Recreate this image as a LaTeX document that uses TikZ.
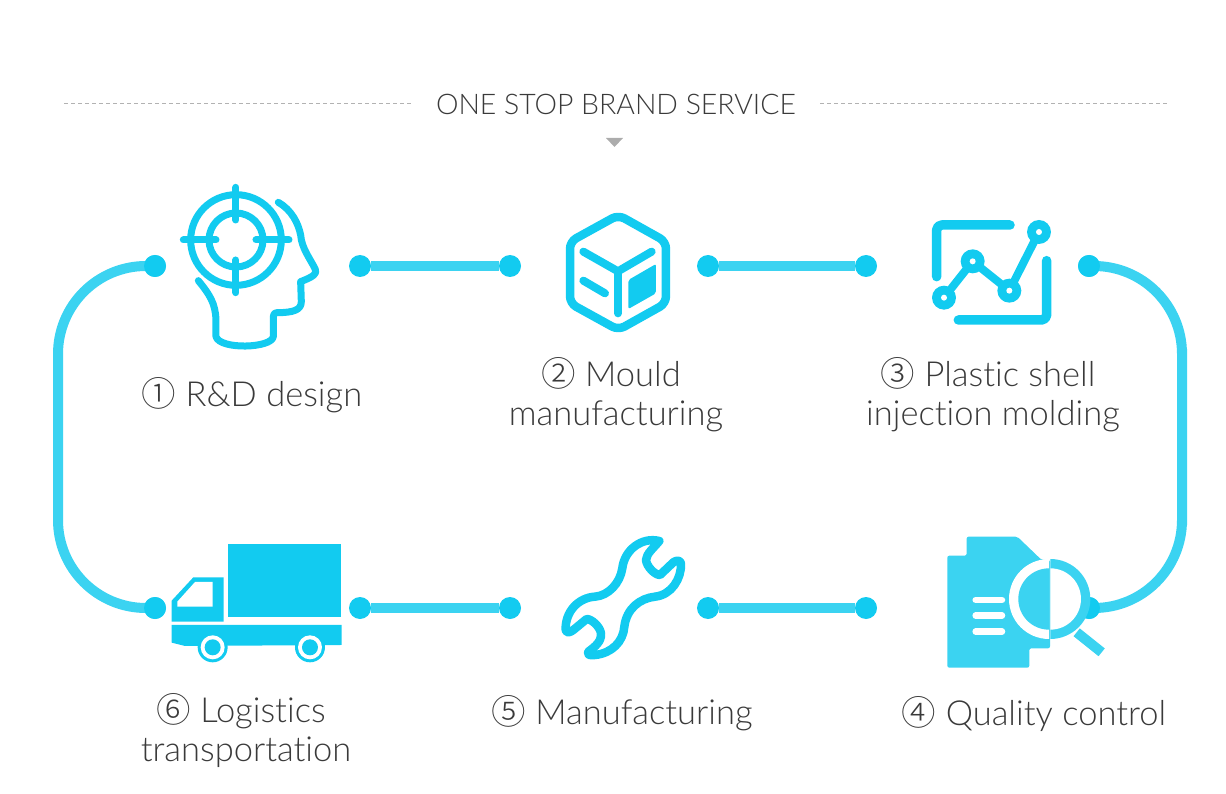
\documentclass[tikz,border=0pt]{standalone}
\usepackage{fontspec}
\setmainfont{Lato Light}[Ligatures=NoCommon]
\newfontfamily\circfont{Noto Sans CJK SC Light}
\usetikzlibrary{arrows.meta}

\definecolor{iconblue}{HTML}{12CBF0}
\definecolor{lineblue}{HTML}{3BD3F1}
\definecolor{textgray}{HTML}{3A3A3A}

\tikzset{
	dot/.style={circle, fill=iconblue, minimum size=22pt, inner sep=0pt},
	link/.style={line width=10pt, lineblue},
	label/.style={text=textgray, font=\fontsize{34.5}{39}\selectfont, align=center, inner sep=0pt},
	icon/.style={iconblue, line width=7pt, line cap=round, line join=round},
	rule/.style={gray!60, line width=0.7pt, dash pattern=on 4pt off 3pt},
}

\begin{document}
\begin{tikzpicture}[x=1pt, y=-1pt]
	\useasboundingbox (0,0) rectangle (1226,794);
	
	% --- title ---
	\node[text=textgray, font=\fontsize{28.4}{32}\selectfont, inner sep=0pt] (title) at (616,104) {ONE STOP BRAND SERVICE};
	\coordinate (ruleAa) at (64,103);
	\coordinate (ruleAb) at (413,103);
	\coordinate (ruleBa) at (820,103);
	\coordinate (ruleBb) at (1169,103);
	\draw[rule] (ruleAa) -- (ruleAb);
	\draw[rule] (ruleBa) -- (ruleBb);
	\fill[gray!65] (606,138) -- (623,138) -- (614.5,147) -- cycle;
	
	% --- dots ---
	\node[dot] (dotA) at (155,266) {};
	\node[dot] (dotB) at (360,266) {};
	\node[dot] (dotC) at (510,266) {};
	\node[dot] (dotD) at (708,266) {};
	\node[dot] (dotE) at (866,266) {};
	\node[dot] (dotF) at (1089,266) {};
	\node[dot] (dotG) at (1089,608) {};
	\node[dot] (dotH) at (866,608) {};
	\node[dot] (dotI) at (708,608) {};
	\node[dot] (dotJ) at (510,608) {};
	\node[dot] (dotK) at (360,608) {};
	\node[dot] (dotL) at (155,608) {};
	
	% --- connectors ---
	\coordinate (turnL) at (58,437);
	\coordinate (turnR) at (1182,437);
	\draw[link] (dotB) -- (dotC);
	\draw[link] (dotD) -- (dotE);
	\draw[link] (dotH) -- (dotI);
	\draw[link] (dotJ) -- (dotK);
	\draw[link, rounded corners=88pt] (dotF.center) -| (turnR) |- (dotG.center);
	\draw[link, rounded corners=88pt] (dotA.center) -| (turnL) |- (dotL.center);
	\fill[iconblue] (dotA) circle (11) (dotF) circle (11) (dotG) circle (11) (dotL) circle (11);
	
	% --- icon 1: head ---
	\begin{scope}[shift={(140,170)}, x=0.3333pt, y=-0.3333pt]
		\draw[icon] (288,210) circle (136);
		\draw[icon] (288,210) circle (81);
		\draw[icon] (288,52) -- (288,150);
		\draw[icon] (288,270) -- (288,368);
		\draw[icon] (130,210) -- (228,210);
		\draw[icon] (348,210) -- (447,210);
		\draw[icon] (415,97) .. controls (455,120) and (475,160) .. (482,195)
			.. controls (485,235) and (510,265) .. (526,298)
			.. controls (532,312) and (520,320) .. (482,335)
			-- (484,395) .. controls (484,420) and (460,428) .. (412,428)
			.. controls (402,428) and (400,435) .. (400,445)
			-- (400,500) .. controls (395,535) and (240,540) .. (228,500)
			-- (228,450) .. controls (226,400) and (210,375) .. (175,332);
	\end{scope}
	
	% --- icon 2: box ---
	\begin{scope}[shift={(540,190)}, x=0.3333pt, y=-0.3333pt]
		\draw[icon, line width=8.5pt, rounded corners=7pt] (235,75) -- (378,155) -- (378,340) -- (235,420) -- (90,340) -- (90,155) -- cycle;
		\draw[icon, line width=8pt] (130,185) -- (234,244) -- (335,185);
		\draw[icon, line width=8pt] (234,244) -- (234,370);
		\draw[icon, line width=8pt] (130,272) -- (195,310);
		\fill[iconblue, rounded corners=2pt] (265,270) -- (348,222) -- (348,310) -- (265,357) -- cycle;
	\end{scope}
	
	% --- icon 3: chart ---
	\begin{scope}[shift={(910,200)}, x=0.3333pt, y=-0.3333pt]
		\draw[icon, line width=9.5pt, rounded corners=5pt] (300,75) -- (80,75) -- (80,230);
		\draw[icon, line width=9.5pt, rounded corners=5pt] (410,182) -- (410,360) -- (145,360);
		\draw[icon, line width=8pt] (102,293) -- (188,184) -- (298,272) -- (387,96);
		\foreach \px/\py in {102/293, 188/184, 298/272, 387/96} {
			\fill[iconblue] (\px,\py) circle (36);
			\fill[white] (\px,\py) circle (9);
		}
	\end{scope}
	
	% --- icon 4: document and lens ---
	\begin{scope}[shift={(930,525)}, x=0.3333pt, y=-0.3333pt]
		\fill[lineblue, rounded corners=2pt] (52,92) -- (110,92) -- (110,35) -- (262,35) -- (335,105) -- (360,105) -- (360,370) -- (298,370) -- (298,428) -- (52,428) -- cycle;
		% left half of the ring is white, the glass keeps the sheet colour
		\fill[white] (357,102) arc[start angle=-90, end angle=-270, radius=120] -- cycle;
		\fill[lineblue] (357,130) arc[start angle=-90, end angle=-270, radius=92] -- cycle;
		% right half is the other way round
		\fill[lineblue] (361,102) arc[start angle=-90, end angle=90, radius=120] -- cycle;
		\fill[white] (361,130) arc[start angle=-90, end angle=90, radius=92] -- cycle;
		\draw[lineblue, line width=10pt] (440,322) -- (515,382);
		\draw[white, line width=6.5pt, line cap=round] (137,225) -- (216,225);
		\draw[white, line width=6.5pt, line cap=round] (137,272) -- (216,272);
		\draw[white, line width=6.5pt, line cap=round] (137,320) -- (216,320);
	\end{scope}
	
	% --- icon 5: wrench ---
	\begin{scope}[shift={(545,525)}, x=0.3333pt, y=-0.3333pt]
		\draw[icon, line width=8.5pt] (343,48) .. controls (290,35) and (238,75) .. (232,130)
			.. controls (225,175) and (190,212) .. (150,215)
			.. controls (100,218) and (60,260) .. (62,315)
			.. controls (65,328) and (78,320) .. (85,315)
			-- (125,282) .. controls (140,282) and (165,305) .. (168,325)
			.. controls (170,350) and (150,365) .. (130,380)
			.. controls (125,390) and (135,392) .. (150,390)
			.. controls (200,385) and (235,350) .. (238,305)
			.. controls (245,250) and (285,220) .. (330,215)
			.. controls (380,210) and (410,160) .. (408,115)
			.. controls (405,105) and (395,105) .. (385,112)
			-- (345,150) .. controls (330,150) and (305,125) .. (303,105)
			.. controls (305,85) and (325,70) .. (343,48) -- cycle;
	\end{scope}
	
	% --- icon 6: truck ---
	\begin{scope}[shift={(150,530)}, x=0.3333pt, y=-0.3333pt]
		\fill[iconblue] (235,43) rectangle (572,262);
		\fill[iconblue] (65,212) -- (130,142) -- (221,142) -- (221,275) -- (65,275) -- cycle;
		\fill[white] (82,215) -- (135,156) -- (188,156) -- (188,230) -- (82,230) -- cycle;
		\fill[iconblue] (65,285) -- (575,285) -- (575,345) -- (105,348) -- (65,338) -- cycle;
		\foreach \wx in {188, 480} {
			\fill[iconblue] (\wx,352) circle (45);
			\fill[white] (\wx,352) circle (36);
			\fill[iconblue] (\wx,352) circle (24);
		}
	\end{scope}
	
	% --- labels ---
	\node[label] (labelA) at (252,395) {{\circfont ①} R\&D design};
	\node[label] (labelB) at (616,395) {{\circfont ②} Mould\hspace*{10pt}\\manufacturing};
	\node[label] (labelC) at (993,395) {{\circfont ③} Plastic shell\hspace*{10pt}\\injection molding};
	\node[label] (labelD) at (1034,714) {{\circfont ④} Quality control};
	\node[label] (labelE) at (622,713) {{\circfont ⑤} Manufacturing};
	\node[label] (labelF) at (246,731) {{\circfont ⑥} Logistics\hspace*{10pt}\\transportation};
	
\end{tikzpicture}
\end{document}
